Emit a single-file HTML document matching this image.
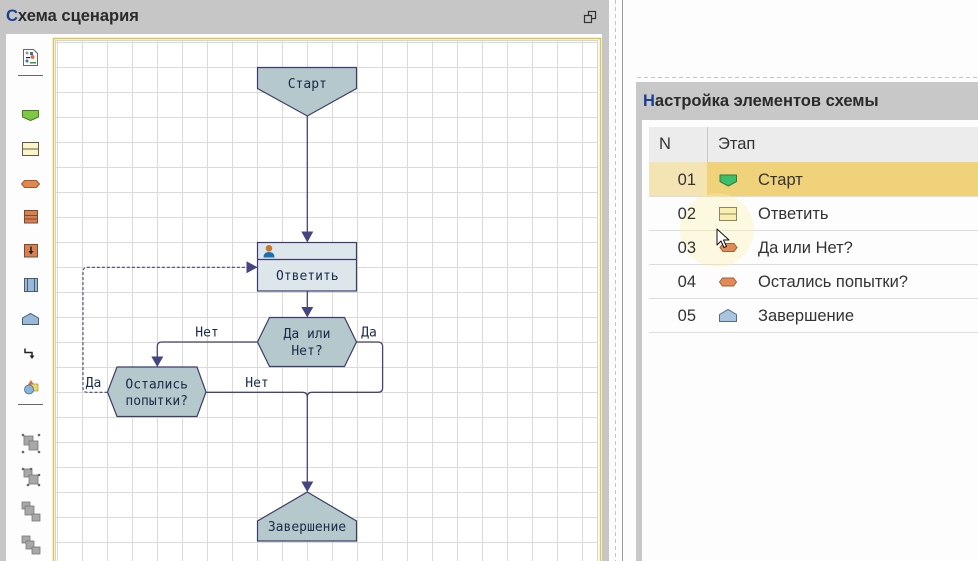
<!DOCTYPE html>
<html><head><meta charset="utf-8"><style>
html,body{margin:0;padding:0;background:#fdfdfd;}
body{width:978px;height:561px;overflow:hidden;position:relative;}
svg{position:absolute;left:0;top:0;}
.t{font-family:"DejaVu Sans Mono","Liberation Mono",monospace;font-size:13px;fill:#1a2c4a;}
.s{font-family:"Liberation Sans",Arial,sans-serif;font-size:16.5px;fill:#333;}
.h{font-family:"Liberation Sans",Arial,sans-serif;font-size:16.5px;font-weight:bold;fill:#2a2a2a;}
</style></head><body>
<svg width="978" height="561" viewBox="0 0 978 561" xmlns="http://www.w3.org/2000/svg">
<!-- left panel -->
<rect x="0" y="0" width="609" height="561" fill="#c6c6c6"/>
<rect x="6" y="34" width="596" height="527" fill="#fdfdfd"/>
<text class="h" x="6" y="21"><tspan fill="#1a3f8f">С</tspan>хема сценария</text>
<!-- restore icon -->
<rect x="588.5" y="11.5" width="7" height="7" fill="none" stroke="#333" stroke-width="1.2"/>
<rect x="584.5" y="15.5" width="7" height="7" fill="#c6c6c6" stroke="#333" stroke-width="1.2"/>

<!-- diagram area -->
<rect x="53.5" y="38.5" width="547" height="530" fill="#fff" stroke="#dcc548" stroke-width="1.5"/>
<rect x="55.5" y="40.5" width="542" height="530" fill="#fff" stroke="#d4d4d4" stroke-width="1"/>
<path stroke="#dadada" stroke-width="1" fill="none" d="M57.5 41V561M82.5 41V561M107.5 41V561M132.5 41V561M157.5 41V561M182.5 41V561M207.5 41V561M232.5 41V561M257.5 41V561M282.5 41V561M307.5 41V561M332.5 41V561M357.5 41V561M382.5 41V561M407.5 41V561M432.5 41V561M457.5 41V561M482.5 41V561M507.5 41V561M532.5 41V561M557.5 41V561M582.5 41V561
M56 42.5H597M56 67.5H597M56 92.5H597M56 117.5H597M56 142.5H597M56 167.5H597M56 192.5H597M56 217.5H597M56 242.5H597M56 267.5H597M56 292.5H597M56 317.5H597M56 342.5H597M56 367.5H597M56 392.5H597M56 417.5H597M56 442.5H597M56 467.5H597M56 492.5H597M56 517.5H597M56 542.5H597"/>

<!-- toolbar -->
<g>
 <path d="M23.5 49.5H33.5L37.5 53.5V65.5H23.5Z" fill="#fff" stroke="#666"/>
 <circle cx="27" cy="53" r="1.5" fill="#999"/>
 <rect x="30" y="52" width="3" height="3" fill="#3a6ea8"/>
 <circle cx="32.5" cy="57" r="2" fill="#e07040"/>
 <rect x="26" y="57" width="4" height="1.2" fill="#222"/>
 <circle cx="27" cy="61" r="1.5" fill="#3a6ea8"/>
 <rect x="30" y="62" width="6" height="1.5" fill="#3a9a3a"/>
</g>
<line x1="18" y1="75.5" x2="43" y2="75.5" stroke="#666"/>
<path d="M22.5 110.5H38.5V117L30.5 120.5L22.5 117Z" fill="#7ec843" stroke="#4a7a2a" stroke-linejoin="round"/>
<rect x="22.5" y="142.5" width="16" height="13" fill="#fbf5c8" stroke="#5e5a48"/>
<line x1="22.5" y1="149" x2="38.5" y2="149" stroke="#5e5a48"/>
<path d="M21.5 184L24.5 180.5H36.5L39.5 184L36.5 187.5H24.5Z" fill="#e08850" stroke="#a05a30"/>
<rect x="24.5" y="210.5" width="13" height="12.5" fill="#d98050" stroke="#7a4a30"/>
<path d="M25 215.5H37M25 219H37" stroke="#7a4a30"/>
<rect x="24.5" y="244.5" width="13" height="12.5" fill="#d98050" stroke="#7a4a30"/>
<path d="M31 246.5V252" stroke="#222" stroke-width="1.5"/><path d="M28.5 251H33.5L31 254.5Z" fill="#222"/>
<rect x="24.5" y="278.5" width="13" height="13" fill="#9ab8d8" stroke="#4a5a70"/>
<path d="M27.5 278.5V291.5M34.5 278.5V291.5" stroke="#4a5a70"/>
<path d="M22.5 318L30.5 313.5L38.5 318V324.5H22.5Z" fill="#9ab8d8" stroke="#4a5a70"/>
<path d="M25 348.5V352.5H32V357" fill="none" stroke="#222" stroke-width="1.5"/><path d="M29.5 355.5H34.5L32 359Z" fill="#222"/>
<path d="M31 380L35 386H27Z" fill="#e07040"/>
<rect x="31" y="384" width="7" height="7" fill="#f0d860" stroke="#8a7a40" stroke-width="0.6"/>
<circle cx="29" cy="389.5" r="4.5" fill="#8ab4dc" stroke="#4a6a8a" stroke-width="0.8"/>
<line x1="18" y1="404.5" x2="43" y2="404.5" stroke="#666"/>
<g fill="#a8a8a8" stroke="#777" stroke-width="0.8">
 <rect x="24" y="436" width="9" height="9"/><rect x="29" y="441" width="9" height="9"/>
 <rect x="24" y="469" width="8" height="8"/><rect x="29" y="475" width="9" height="9"/>
 <rect x="22" y="502" width="8" height="7"/><rect x="25" y="506" width="9" height="9"/><rect x="32" y="514" width="8" height="7"/>
 <rect x="22" y="536" width="8" height="7"/><rect x="26" y="541" width="8" height="8"/><rect x="32" y="547" width="8" height="7"/>
</g>
<g fill="#666">
 <circle cx="23" cy="435" r="1.3"/><circle cx="39" cy="435" r="1.3"/><circle cx="23" cy="452" r="1.3"/><circle cx="39" cy="452" r="1.3"/>
 <circle cx="23" cy="469" r="1.3"/><circle cx="31" cy="469" r="1.3"/><circle cx="39" cy="475" r="1.3"/><circle cx="39" cy="485" r="1.3"/><circle cx="28" cy="485" r="1.3"/>
</g>

<!-- connectors -->
<g fill="none" stroke="#454575" stroke-width="1.3">
 <line x1="307.3" y1="116" x2="307.3" y2="232"/>
 <line x1="307.3" y1="291" x2="307.3" y2="308"/>
 <path d="M257.5 342H161.5Q157.3 342 157.3 346.5V357"/>
 <path d="M356.5 342H378Q382.6 342 382.6 346.5V388Q382.6 392.3 378 392.3H312Q307.3 392.3 307.3 397V482"/>
 <path d="M206 392.3H302.5Q307.3 392.3 307.3 397"/>
 <path d="M107.5 392.3H87.5Q83 392.3 83 388V271.5Q83 267.3 87.5 267.3H247" stroke-dasharray="3 2" stroke-width="1.1"/>
</g>
<g fill="#454580">
 <path d="M301.3 231.5H313.3L307.3 242.5Z"/>
 <path d="M301.3 307H313.3L307.3 317.5Z"/>
 <path d="M151.3 356.5H163.3L157.3 367Z"/>
 <path d="M301.3 481.5H313.3L307.3 492Z"/>
 <path d="M246.5 261.3V273.3L257.5 267.3Z"/>
</g>

<!-- nodes -->
<path d="M257.5 67.5H356.5V88.5L307.3 116L257.5 88.5Z" fill="#b5c8cc" stroke="#3c3c6e" stroke-width="1.2"/>
<text class="t" x="307.3" y="88" text-anchor="middle">Старт</text>

<rect x="257.5" y="242.5" width="99" height="48.5" fill="#dde6ea" stroke="#3c3c6e" stroke-width="1.2"/>
<line x1="257.5" y1="259.5" x2="356.5" y2="259.5" stroke="#3c3c6e" stroke-width="1.2"/>
<circle cx="269" cy="248.3" r="3.3" fill="#c8782e"/>
<path d="M263.5 257.5Q263.5 252 269 252Q274.5 252 274.5 257.5Z" fill="#1f6fae"/>
<text class="t" x="307.3" y="280" text-anchor="middle">Ответить</text>

<path d="M269.5 317.5H344.5L356.5 342L344.5 366.5H269.5L257.5 342Z" fill="#b5c8cc" stroke="#3c3c6e" stroke-width="1.2"/>
<text class="t" x="307" y="338" text-anchor="middle">Да или</text>
<text class="t" x="307" y="355" text-anchor="middle">Нет?</text>

<path d="M117 367H197L206 392L197 416.5H117L107.5 392Z" fill="#b5c8cc" stroke="#3c3c6e" stroke-width="1.2"/>
<text class="t" x="156.7" y="388.5" text-anchor="middle">Остались</text>
<text class="t" x="156.7" y="405" text-anchor="middle">попытки?</text>

<path d="M307.3 492L356.5 521V541H257.5V521Z" fill="#b5c8cc" stroke="#3c3c6e" stroke-width="1.2"/>
<text class="t" x="307" y="531" text-anchor="middle">Завершение</text>

<!-- labels -->
<text class="t" x="207" y="336.5" text-anchor="middle">Нет</text>
<text class="t" x="369" y="336.5" text-anchor="middle">Да</text>
<text class="t" x="93.5" y="387" text-anchor="middle">Да</text>
<text class="t" x="257" y="387" text-anchor="middle">Нет</text>

<!-- separators -->
<line x1="615.5" y1="0" x2="615.5" y2="561" stroke="#c4c4c4" stroke-dasharray="4 3"/>
<line x1="622.5" y1="0" x2="622.5" y2="561" stroke="#9a9a9a"/>
<line x1="637" y1="77.5" x2="978" y2="77.5" stroke="#c4c4c4" stroke-dasharray="4 3"/>

<!-- right panel -->
<rect x="636" y="82" width="342" height="479" fill="#c8c8c8"/>
<rect x="642" y="120" width="336" height="441" fill="#fdfdfd"/>
<text class="h" x="643" y="106"><tspan fill="#1a3f8f">Н</tspan>астройка элементов схемы</text>

<rect x="649" y="127" width="329" height="35" fill="#ececec"/>
<line x1="707.5" y1="127" x2="707.5" y2="162" stroke="#c8c8c8"/>
<text class="s" x="659" y="149">N</text>
<text class="s" x="718" y="149">Этап</text>

<rect x="649" y="162" width="329" height="34" fill="#efd27a"/>
<rect x="649" y="162" width="58" height="34" fill="#f4e3b3"/>
<g stroke="#dcdcdc" stroke-width="1">
 <line x1="649" y1="196.5" x2="978" y2="196.5"/>
 <line x1="649" y1="230.5" x2="978" y2="230.5"/>
 <line x1="649" y1="264.5" x2="978" y2="264.5"/>
 <line x1="649" y1="298.5" x2="978" y2="298.5"/>
 <line x1="649" y1="332.5" x2="978" y2="332.5"/>
</g>

<!-- cursor highlight -->
<circle cx="717" cy="230" r="37" fill="#fbf2a8" fill-opacity="0.35"/>

<g>
 <text class="s" x="696" y="185" text-anchor="end">01</text>
 <text class="s" x="696" y="219" text-anchor="end">02</text>
 <text class="s" x="696" y="253" text-anchor="end">03</text>
 <text class="s" x="696" y="287" text-anchor="end">04</text>
 <text class="s" x="696" y="321" text-anchor="end">05</text>
 <text class="s" x="758" y="185">Старт</text>
 <text class="s" x="758" y="219">Ответить</text>
 <text class="s" x="758" y="253">Да или Нет?</text>
 <text class="s" x="758" y="287">Остались попытки?</text>
 <text class="s" x="758" y="321">Завершение</text>
</g>
<path d="M720 175H736.5V181.5L728.3 186L720 181.5Z" fill="#3cbf68" stroke="#2d7a45" stroke-linejoin="round"/>
<rect x="719.5" y="207.5" width="17" height="13" fill="#f8efae" stroke="#8a8468"/>
<line x1="719.5" y1="214" x2="736.5" y2="214" stroke="#8a8468"/>
<path d="M720 247.5L723 243.5H734L737 247.5L734 251.5H723Z" fill="#e08a55" stroke="#a0603a"/>
<path d="M719.5 282L722.5 278H733.5L736.5 282L733.5 286H722.5Z" fill="#e48a5a" stroke="#a0603a"/>
<path d="M719.5 314.5L728 309.5L736.5 314.5V321.5H719.5Z" fill="#a8c6e0" stroke="#5a6a80"/>

<!-- cursor -->
<path d="M717 229V245L721 241L724 247.5L726.5 246.5L723.5 240H729Z" fill="#fff" stroke="#111" stroke-width="1" stroke-linejoin="round"/>
</svg>
</body></html>
